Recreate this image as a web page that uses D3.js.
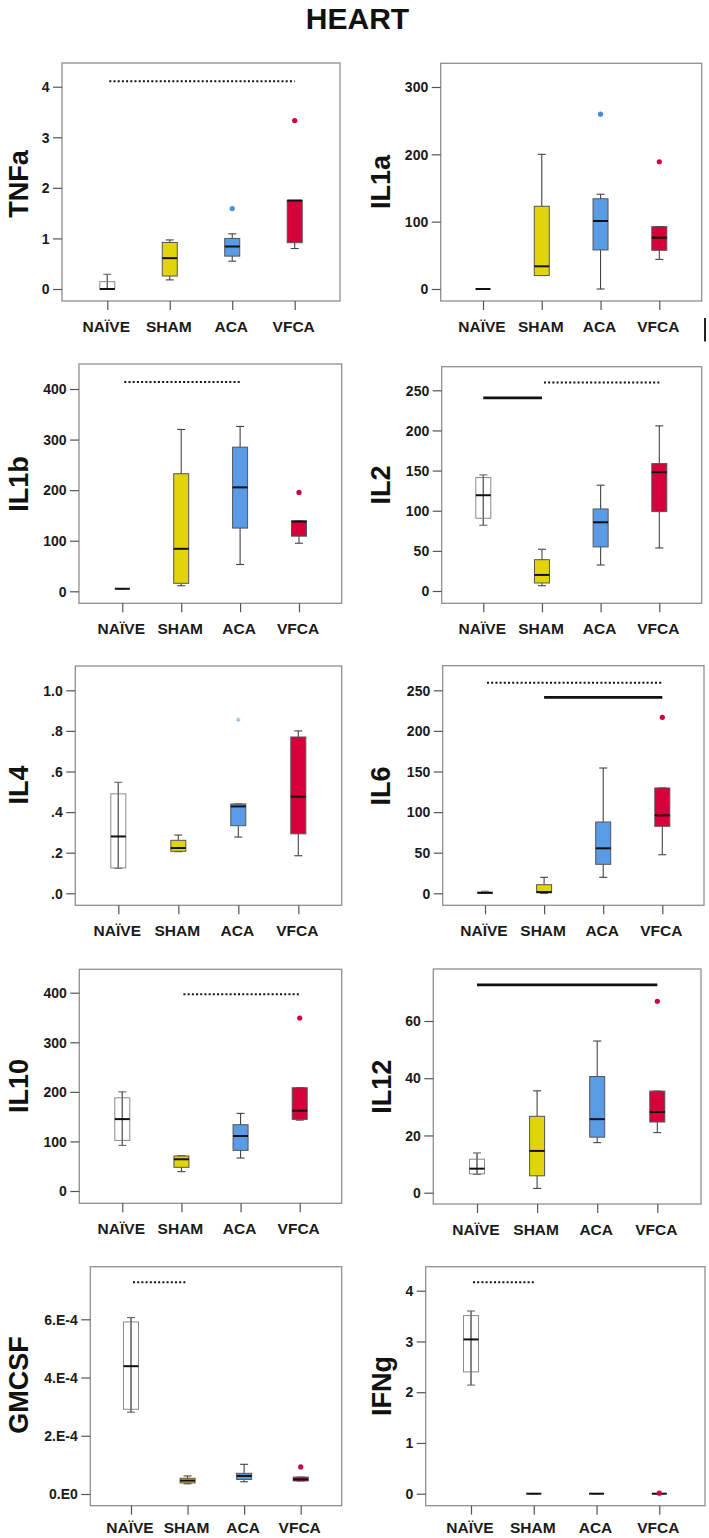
<!DOCTYPE html>
<html>
<head>
<meta charset="utf-8">
<script src="https://cdn.jsdelivr.net/npm/d3@7/dist/d3.min.js"></script>
<style>
  html, body { margin: 0; padding: 0; background: #fff; }
  svg { display: block; }
  text { font-family: "Liberation Sans", Arial, Helvetica, sans-serif; font-weight: bold; }
</style>
</head>
<body>
<svg id="chart" width="709" height="1538"></svg>
<script>
// ---------------- DATA ----------------
const groups = ["NAÏVE", "SHAM", "ACA", "VFCA"];
const chartTitle = "HEART";

// stats per group: [lower whisker, Q1, median, Q3, upper whisker]
const tnfaStats = [[0, 0, 0, 0.145, 0.29], [0.18, 0.257, 0.61, 0.92, 0.97], [0.55, 0.65, 0.84, 1.0, 1.09], [0.80, 0.915, 1.75, 1.75, 1.75]];
const tnfaOutliers = [[], [], [1.59], [3.33]];
const tnfaTicks = [0, 1, 2, 3, 4];
const tnfaTickLabels = ["0", "1", "2", "3", "4"];
const tnfaSig = [[4.11, 0, 3, "dotted"]];

const il1aStats = [[0, 0, 0, 0, 0], [20, 20, 33.7, 122.9, 200], [0, 58, 101, 134, 140.7], [44, 57.5, 76.2, 92.6, 92.6]];
const il1aOutliers = [[], [], [259.6], [189]];
const il1aTicks = [0, 100, 200, 300];
const il1aTickLabels = ["0", "100", "200", "300"];
const il1aSig = [];

const il1bStats = [[5, 5, 5, 5, 5], [11, 15.8, 84, 232.5, 320], [53, 125, 205.5, 285, 326], [95, 109, 138, 139, 139]];
const il1bOutliers = [[], [], [], [195.6]];
const il1bTicks = [0, 100, 200, 300, 400];
const il1bTickLabels = ["0", "100", "200", "300", "400"];
const il1bSig = [[414, 0, 2, "dotted"]];

const il2Stats = [[81.9, 90.6, 119.3, 141.3, 144.6], [6.6, 10, 20, 39, 52], [32.4, 54.9, 85.6, 102.2, 131.8], [53.6, 98.9, 148, 158.7, 205.7]];
const il2Outliers = [[], [], [], []];
const il2Ticks = [0, 50, 100, 150, 200, 250];
const il2TickLabels = ["0", "50", "100", "150", "200", "250"];
const il2Sig = [[240.6, 0, 1, "solid"], [259.7, 1, 3, "dotted"]];

const il4Stats = [[0.123, 0.125, 0.28, 0.49, 0.547], [0.205, 0.207, 0.223, 0.261, 0.287], [0.277, 0.333, 0.428, 0.44, 0.44], [0.185, 0.293, 0.476, 0.77, 0.80]];
const il4Outliers = [[], [], [], []];
const il4Extremes = [[], [], [0.855], []];
const il4Ticks = [0, 0.2, 0.4, 0.6, 0.8, 1.0];
const il4TickLabels = [".0", ".2", ".4", ".6", ".8", "1.0"];
const il4Sig = [];

const il6Stats = [[0, 0, 0.5, 1.5, 2.5], [0, 0.8, 1.5, 10.6, 19.7], [19.7, 35.7, 55.4, 87.8, 154.3], [47.5, 82.5, 96, 129.7, 129.7]];
const il6Outliers = [[], [], [], [216.7]];
const il6Ticks = [0, 50, 100, 150, 200, 250];
const il6TickLabels = ["0", "50", "100", "150", "200", "250"];
const il6Sig = [[259.4, 0, 3, "dotted"], [241.4, 1, 3, "solid"]];

const il10Stats = [[92, 102, 145, 188, 200], [39, 47.8, 64, 70.6, 71], [66.5, 82, 111, 133.7, 156.6], [143, 144.5, 162, 208.3, 208.3]];
const il10Outliers = [[], [], [], [349]];
const il10Ticks = [0, 100, 200, 300, 400];
const il10TickLabels = ["0", "100", "200", "300", "400"];
const il10Sig = [[397, 1, 3, "dotted"]];

const il12Stats = [[6.4, 6.6, 8.4, 11.7, 13.9], [1.5, 5.9, 14.6, 26.7, 35.6], [17.5, 19.4, 25.7, 40.6, 53], [21, 24.7, 28.2, 35.5, 35.5]];
const il12Outliers = [[], [], [], [66.9]];
const il12Ticks = [0, 20, 40, 60];
const il12TickLabels = ["0", "20", "40", "60"];
const il12Sig = [[72.6, 0, 3, "solid"]];

const gmcsfStats = [[0.000281, 0.000291, 0.000439, 0.000591, 0.000606], [0.000035, 0.000038, 0.000046, 0.000054, 0.000062], [0.000042, 0.000050, 0.000062, 0.000071, 0.000102], [0.000045, 0.000045, 0.000050, 0.000058, 0.000058]];
const gmcsfOutliers = [[], [], [], [0.000093]];
const gmcsfTicks = [0, 0.0002, 0.0004, 0.0006];
const gmcsfTickLabels = ["0.E0", "2.E-4", "4.E-4", "6.E-4"];
const gmcsfSig = [[0.000727, 0, 1, "dotted"]];

const ifngStats = [[2.14, 2.40, 3.04, 3.51, 3.60], [0, 0, 0, 0, 0], [0, 0, 0, 0, 0], [0, 0, 0, 0, 0]];
const ifngOutliers = [[], [], [], [0.01]];
const ifngTicks = [0, 1, 2, 3, 4];
const ifngTickLabels = ["0", "1", "2", "3", "4"];
const ifngSig = [[4.165, 0, 1, "dotted"]];

// ---------------- LAYOUT / STYLE ----------------
const fillColors = ["none", "#e2d40a", "#5a9be6", "#d6003a"];
const dotColors = ["#666", "#c8b800", "#4a8ee0", "#d0003a"];

// frame [left, top, right, bottom], yPix [pixel of first tick, pixel of last tick], xPix [first cat, last cat], title [x, y], lab = label baseline offset
const panels = [
  { name: "TNFa",  stats: tnfaStats,  out: tnfaOutliers,  ext: null, ticks: tnfaTicks,  labels: tnfaTickLabels,  sig: tnfaSig,
    frame: [62, 63, 340, 301],        yPix: [289, 86.7],    xPix: [107.3, 294.7], title: [18, 184], lab: 31 },
  { name: "IL1a",  stats: il1aStats,  out: il1aOutliers,  ext: null, ticks: il1aTicks,  labels: il1aTickLabels,  sig: il1aSig,
    frame: [440.7, 63.3, 701.7, 301], yPix: [289, 87],      xPix: [483, 659.3],   title: [380, 182], lab: 31 },
  { name: "IL1b",  stats: il1bStats,  out: il1bOutliers,  ext: null, ticks: il1bTicks,  labels: il1bTickLabels,  sig: il1bSig,
    frame: [79, 364, 341.7, 603.3],   yPix: [591.3, 389],   xPix: [122.3, 299],   title: [18, 484], lab: 31 },
  { name: "IL2",   stats: il2Stats,   out: il2Outliers,   ext: null, ticks: il2Ticks,   labels: il2TickLabels,   sig: il2Sig,
    frame: [441.7, 366.7, 701.7, 603.3], yPix: [591, 390.3], xPix: [483.3, 659.3], title: [380.7, 485], lab: 31 },
  { name: "IL4",   stats: il4Stats,   out: il4Outliers,   ext: il4Extremes, ticks: il4Ticks, labels: il4TickLabels, sig: il4Sig,
    frame: [75.3, 666, 341.7, 905.3], yPix: [893.3, 690.3], xPix: [118.3, 298.3], title: [18, 785], lab: 31 },
  { name: "IL6",   stats: il6Stats,   out: il6Outliers,   ext: null, ticks: il6Ticks,   labels: il6TickLabels,   sig: il6Sig,
    frame: [442.7, 665.7, 704, 905.3], yPix: [893.3, 690.3], xPix: [485, 662.3],  title: [380.7, 786], lab: 31 },
  { name: "IL10",  stats: il10Stats,  out: il10Outliers,  ext: null, ticks: il10Ticks,  labels: il10TickLabels,  sig: il10Sig,
    frame: [79.3, 969.3, 341.7, 1203.3], yPix: [1191, 992.7], xPix: [122.3, 299.7], title: [18, 1086], lab: 31 },
  { name: "IL12",  stats: il12Stats,  out: il12Outliers,  ext: null, ticks: il12Ticks,  labels: il12TickLabels,  sig: il12Sig,
    frame: [433.3, 969, 701, 1204],   yPix: [1192.7, 1021], xPix: [477, 657.3],   title: [381.7, 1086.7], lab: 31 },
  { name: "GMCSF", stats: gmcsfStats, out: gmcsfOutliers, ext: null, ticks: gmcsfTicks, labels: gmcsfTickLabels, sig: gmcsfSig,
    frame: [90.3, 1266.7, 341.7, 1505.7], yPix: [1494, 1319.3], xPix: [131, 300.7], title: [18, 1385], lab: 27.5 },
  { name: "IFNg",  stats: ifngStats,  out: ifngOutliers,  ext: null, ticks: ifngTicks,  labels: ifngTickLabels,  sig: ifngSig,
    frame: [425.7, 1266.7, 705, 1505.7], yPix: [1493.7, 1290.7], xPix: [471, 659.3], title: [381.7, 1386], lab: 27.5 }
];

const BOX_W = 15, CAP_W = 8;

const svg = d3.select("#chart");

svg.append("text")
  .attr("x", 357.5).attr("y", 29)
  .attr("text-anchor", "middle")
  .attr("font-size", 30)
  .attr("fill", "#111")
  .text(chartTitle);

panels.forEach(p => {
  const [L, T, R, B] = p.frame;
  const y = d3.scaleLinear()
    .domain([p.ticks[0], p.ticks[p.ticks.length - 1]])
    .range(p.yPix);
  const x = d3.scalePoint().domain(groups).range(p.xPix).padding(0);

  const g = svg.append("g");

  // frame
  g.append("rect")
    .attr("x", L).attr("y", T).attr("width", R - L).attr("height", B - T)
    .attr("fill", "none").attr("stroke", "#8f8f8f").attr("stroke-width", 1.3);

  // y axis
  const ya = g.append("g").attr("transform", `translate(${L},0)`)
    .call(d3.axisLeft(y).tickValues(p.ticks).tickFormat((d, i) => p.labels[i]).tickSize(9).tickPadding(3.5));
  ya.select(".domain").remove();
  ya.selectAll(".tick line").attr("stroke", "#555").attr("stroke-width", 1.2);
  ya.selectAll(".tick text")
    .attr("font-size", 14)
    .attr("font-family", "Liberation Sans, Arial, sans-serif")
    .attr("font-weight", "bold")
    .attr("fill", "#1a1a1a")
    .attr("dy", "0.34em");

  // x axis
  const xa = g.append("g").attr("transform", `translate(0,${B})`)
    .call(d3.axisBottom(x).tickSize(9));
  xa.select(".domain").remove();
  xa.selectAll(".tick line").attr("stroke", "#555").attr("stroke-width", 1.2);
  xa.selectAll(".tick text")
    .attr("font-size", 15.5)
    .attr("font-family", "Liberation Sans, Arial, sans-serif")
    .attr("font-weight", "bold")
    .attr("fill", "#1a1a1a")
    .attr("y", p.lab).attr("dy", 0).attr("x", -1.5);

  // y title
  g.append("text")
    .attr("transform", `translate(${p.title[0] + 9.5},${p.title[1]}) rotate(-90)`)
    .attr("text-anchor", "middle")
    .attr("font-size", 27)
    .attr("fill", "#111")
    .text(p.name);

  // significance lines
  p.sig.forEach(s => {
    const [val, a, b, kind] = s;
    g.append("line")
      .attr("x1", x(groups[a]) + (kind === "dotted" ? 2 : 0)).attr("x2", x(groups[b]))
      .attr("y1", y(val)).attr("y2", y(val))
      .attr("stroke", "#111")
      .attr("stroke-width", kind === "dotted" ? 2 : 2.8)
      .attr("stroke-dasharray", kind === "dotted" ? "2,2.2" : null);
  });

  // boxes
  p.stats.forEach((st, i) => {
    const cx = x(groups[i]);
    const [lo, q1, md, q3, hi] = st;
    const naive = i === 0;
    const wc = naive ? "#666" : "#444";
    g.append("line")
      .attr("x1", cx).attr("x2", cx).attr("y1", y(lo)).attr("y2", y(hi))
      .attr("stroke", wc).attr("stroke-width", 1.1);
    [lo, hi].forEach(v => {
      g.append("line")
        .attr("x1", cx - CAP_W / 2).attr("x2", cx + CAP_W / 2)
        .attr("y1", y(v)).attr("y2", y(v))
        .attr("stroke", wc).attr("stroke-width", 1.1);
    });
    const h = Math.max(0, y(q1) - y(q3));
    if (h > 0.5) {
      g.append("rect")
        .attr("x", cx - BOX_W / 2).attr("y", y(q3))
        .attr("width", BOX_W).attr("height", h)
        .attr("fill", fillColors[i])
        .attr("stroke", naive ? "#8a8a8a" : "#555")
        .attr("stroke-width", 1);
      if (naive) {
        g.append("line")
          .attr("x1", cx).attr("x2", cx).attr("y1", y(lo)).attr("y2", y(hi))
          .attr("stroke", wc).attr("stroke-width", 1.1);
      }
    }
    g.append("line")
      .attr("x1", cx - BOX_W / 2).attr("x2", cx + BOX_W / 2)
      .attr("y1", y(md)).attr("y2", y(md))
      .attr("stroke", "#111").attr("stroke-width", 2);

    p.out[i].forEach(v => {
      g.append("circle")
        .attr("cx", cx).attr("cy", y(v)).attr("r", 2.6)
        .attr("fill", dotColors[i]);
    });
    if (p.ext) {
      p.ext[i].forEach(v => {
        g.append("path")
          .attr("transform", `translate(${cx},${y(v)})`)
          .attr("d", d3.symbol().type(d3.symbolAsterisk || d3.symbolCross).size(14)())
          .attr("fill", "none")
          .attr("stroke", "#8ab8f0").attr("stroke-width", 1);
      });
    }
  });
});

// small vertical mark at the right of the first row (present in the reference)
svg.append("line")
  .attr("x1", 705).attr("x2", 705).attr("y1", 318).attr("y2", 341.5)
  .attr("stroke", "#222").attr("stroke-width", 2);
</script>
</body>
</html>
